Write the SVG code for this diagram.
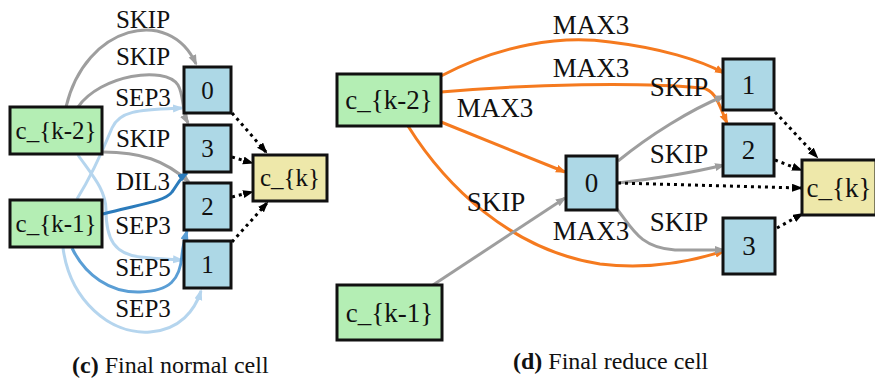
<svg xmlns="http://www.w3.org/2000/svg" width="875" height="378" viewBox="0 0 875 378">
<style>
.box{stroke:#111;stroke-width:3;}
.in{fill:#b4eeb4;}
.mid{fill:#add8e6;}
.out{fill:#eee8aa;}
.e{fill:none;stroke-width:3;}
.gray{stroke:#9e9e9e;marker-end:url(#aG);}
.lb{stroke:#b5d5ee;marker-end:url(#aLB);}
.mb{stroke:#5a9ed5;marker-end:url(#aMB);}
.db{stroke:#2b7bbb;marker-end:url(#aDB);}
.or{stroke:#f57a1f;marker-end:url(#aO);}
.dot{stroke:#000;stroke-dasharray:3 4;marker-end:url(#aK);}
</style>
<defs>
<marker id="aG" markerUnits="userSpaceOnUse" markerWidth="12" markerHeight="10" refX="9" refY="4" orient="auto"><path d="M0,0 L11,4 L0,8 z" fill="#9e9e9e"/></marker>
<marker id="aLB" markerUnits="userSpaceOnUse" markerWidth="12" markerHeight="10" refX="9" refY="4" orient="auto"><path d="M0,0 L11,4 L0,8 z" fill="#b5d5ee"/></marker>
<marker id="aMB" markerUnits="userSpaceOnUse" markerWidth="12" markerHeight="10" refX="9" refY="4" orient="auto"><path d="M0,0 L11,4 L0,8 z" fill="#5a9ed5"/></marker>
<marker id="aDB" markerUnits="userSpaceOnUse" markerWidth="12" markerHeight="10" refX="9" refY="4" orient="auto"><path d="M0,0 L11,4 L0,8 z" fill="#2b7bbb"/></marker>
<marker id="aO" markerUnits="userSpaceOnUse" markerWidth="12" markerHeight="10" refX="9" refY="4" orient="auto"><path d="M0,0 L11,4 L0,8 z" fill="#f57a1f"/></marker>
<marker id="aK" markerUnits="userSpaceOnUse" markerWidth="12" markerHeight="10" refX="9" refY="4" orient="auto"><path d="M0,0 L11,4 L0,8 z" fill="#000"/></marker>
</defs>
<rect width="875" height="378" fill="#fff"/>

<g id="connectors">
<path class="e lb" d="M77,199 C95,170 105,145 112,128 C120,110 140,110 182,108"/>
<path class="e lb" d="M78,155 C92,175 106,190 106,210 C106,240 115,254 140,257 C160,259 170,259 182,260"/>
<path class="e lb" d="M63,248 C70,300 110,335 150,332 C180,330 195,310 201,291"/>
<path class="e gray" d="M66,107 C85,25 170,5 196,64"/>
<path class="e gray" d="M78,107 C100,75 165,65 178,85 C184,95 182,112 188,123"/>
<path class="e gray" d="M103,152 C140,152 165,160 189,182"/>
<path class="e mb" d="M72,248 C85,275 110,293 140,292 C170,291 180,280 182,255 C183,245 185,238 187,231"/>
<path class="e db" d="M103,214 C135,205 165,202 172,192 C178,184 180,178 187,173"/>
<path class="e dot" d="M232,113 L266,152"/>
<path class="e dot" d="M232,157 L252,163"/>
<path class="e dot" d="M232,197 L252,192"/>
<path class="e dot" d="M232,242 L267,203"/>
<path class="e or" d="M441,76 C500,45 560,35 610,42 C660,48 700,60 724,73"/>
<path class="e or" d="M441,92 C530,84 640,82 702,88 C716,90 719,105 727,123"/>
<path class="e or" d="M441,122 L565,172"/>
<path class="e or" d="M408,126 C445,185 510,250 600,264 C650,270 690,262 724,251"/>
<path class="e gray" d="M433,285 L565,198"/>
<path class="e gray" d="M618,161 C650,135 690,110 724,96"/>
<path class="e gray" d="M618,183 C660,178 695,172 724,165"/>
<path class="e gray" d="M617,209 C632,228 640,248 675,250 L724,250"/>
<path class="e dot" d="M775,112 L817,157"/>
<path class="e dot" d="M775,160 L801,170"/>
<path class="e dot" d="M618,183 L801,188"/>
<path class="e dot" d="M777,228 L802,214"/>
</g>

<g id="edge-labels" fill="#111" text-anchor="middle">
<text font-family="Liberation Serif" font-size="25" x="143" y="28">SKIP</text>
<text font-family="Liberation Serif" font-size="25" x="143" y="65">SKIP</text>
<text font-family="Liberation Serif" font-size="25" x="143" y="106">SEP3</text>
<text font-family="Liberation Serif" font-size="25" x="143" y="147">SKIP</text>
<text font-family="Liberation Serif" font-size="25" x="143" y="190">DIL3</text>
<text font-family="Liberation Serif" font-size="25" x="143" y="234">SEP3</text>
<text font-family="Liberation Serif" font-size="25" x="143" y="276">SEP5</text>
<text font-family="Liberation Serif" font-size="25" x="143" y="317">SEP3</text>
<text font-family="Liberation Serif" font-size="27" x="591" y="34">MAX3</text>
<text font-family="Liberation Serif" font-size="27" x="591" y="77">MAX3</text>
<text font-family="Liberation Serif" font-size="27" x="495" y="117">MAX3</text>
<text font-family="Liberation Serif" font-size="27" x="496" y="211">SKIP</text>
<text font-family="Liberation Serif" font-size="27" x="591" y="240">MAX3</text>
<text font-family="Liberation Serif" font-size="27" x="679" y="96">SKIP</text>
<text font-family="Liberation Serif" font-size="27" x="679" y="163">SKIP</text>
<text font-family="Liberation Serif" font-size="27" x="679" y="231">SKIP</text>
</g>

<g id="L_ck2"><rect class="box in" x="10" y="107" width="92" height="47"/><text font-family="Liberation Serif" font-size="25" text-anchor="middle" fill="#111" x="56" y="139">c_{k-2}</text></g>
<g id="L_ck1"><rect class="box in" x="10" y="200" width="92" height="47"/><text font-family="Liberation Serif" font-size="25" text-anchor="middle" fill="#111" x="56" y="232">c_{k-1}</text></g>
<g id="L_n0"><rect class="box mid" x="184" y="67" width="47" height="46"/><text font-family="Liberation Serif" font-size="25" text-anchor="middle" fill="#111" x="207.5" y="99">0</text></g>
<g id="L_n3"><rect class="box mid" x="184" y="125" width="47" height="47"/><text font-family="Liberation Serif" font-size="25" text-anchor="middle" fill="#111" x="207.5" y="157">3</text></g>
<g id="L_n2"><rect class="box mid" x="184" y="183" width="47" height="47"/><text font-family="Liberation Serif" font-size="25" text-anchor="middle" fill="#111" x="207.5" y="215">2</text></g>
<g id="L_n1"><rect class="box mid" x="184" y="241" width="47" height="47"/><text font-family="Liberation Serif" font-size="25" text-anchor="middle" fill="#111" x="207.5" y="273">1</text></g>
<g id="L_ck"><rect class="box out" x="253" y="155" width="74" height="46"/><text font-family="Liberation Serif" font-size="25" text-anchor="middle" fill="#111" x="290" y="186">c_{k}</text></g>

<g id="R_ck2"><rect class="box in" x="337" y="74" width="104" height="52"/><text font-family="Liberation Serif" font-size="27" text-anchor="middle" fill="#111" x="389" y="109">c_{k-2}</text></g>
<g id="R_ck1"><rect class="box in" x="337" y="285" width="105" height="55"/><text font-family="Liberation Serif" font-size="27" text-anchor="middle" fill="#111" x="389.5" y="322">c_{k-1}</text></g>
<g id="R_n0"><rect class="box mid" x="566" y="156" width="51" height="54"/><text font-family="Liberation Serif" font-size="27" text-anchor="middle" fill="#111" x="591.5" y="192">0</text></g>
<g id="R_n1"><rect class="box mid" x="723" y="59" width="51" height="51"/><text font-family="Liberation Serif" font-size="27" text-anchor="middle" fill="#111" x="748.5" y="94">1</text></g>
<g id="R_n2"><rect class="box mid" x="723" y="124" width="51" height="52"/><text font-family="Liberation Serif" font-size="27" text-anchor="middle" fill="#111" x="748.5" y="159">2</text></g>
<g id="R_n3"><rect class="box mid" x="723" y="218" width="52" height="56"/><text font-family="Liberation Serif" font-size="27" text-anchor="middle" fill="#111" x="749" y="255">3</text></g>
<g id="R_ck"><rect class="box out" x="802" y="160" width="74" height="55"/><text font-family="Liberation Serif" font-size="27" text-anchor="middle" fill="#111" x="839" y="197">c_{k}</text></g>

<g id="captions" fill="#111">
<text font-family="Liberation Serif" font-size="24" x="72" y="373"><tspan font-weight="bold">(c)</tspan> Final normal cell</text>
<text font-family="Liberation Serif" font-size="24" x="513" y="369"><tspan font-weight="bold">(d)</tspan> Final reduce cell</text>
</g>
</svg>
